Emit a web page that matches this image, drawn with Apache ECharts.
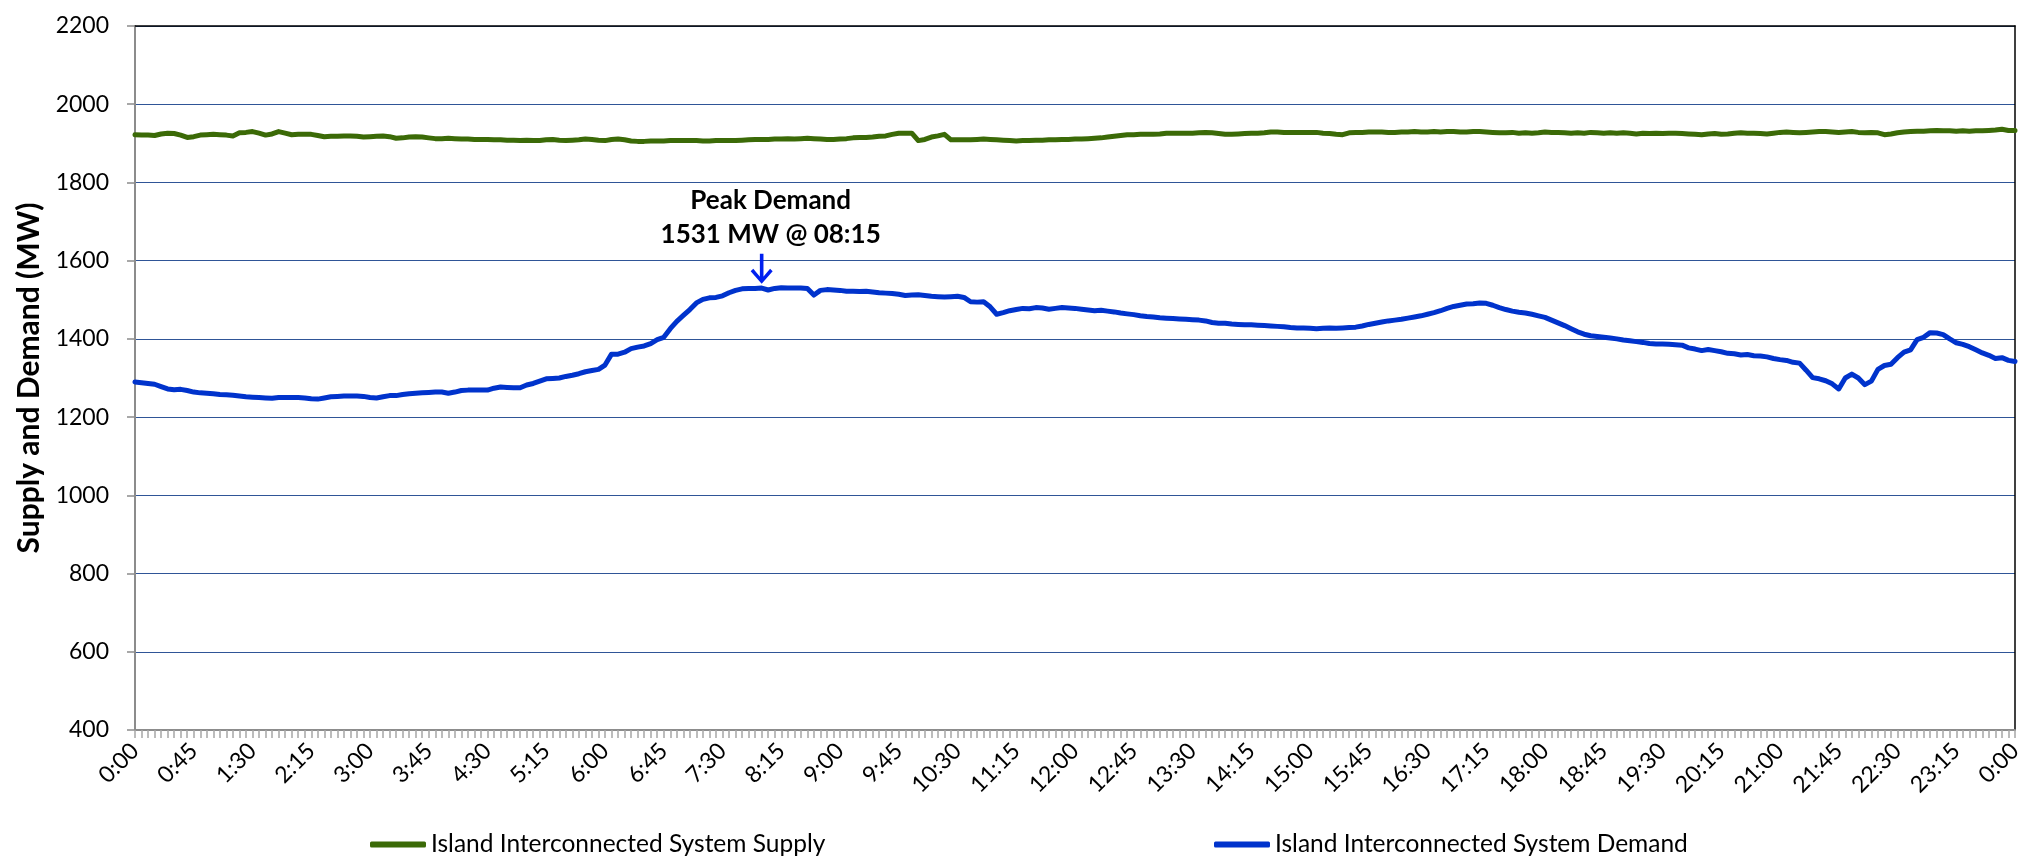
<!DOCTYPE html>
<html>
<head>
<meta charset="utf-8">
<script src="https://cdn.jsdelivr.net/npm/echarts@6/dist/echarts.min.js"></script>
<style>
html,body{margin:0;padding:0;background:#fff;}
#chart{width:2027px;height:857px;}
</style>
</head>
<body>
<div id="chart"></div>
<script>
// 5-minute intervals, 0:00 .. 0:00 (next day)
const times = [];
for (let i = 0; i <= 288; i++) {
  const m = (i * 5) % 1440;
  times.push(Math.floor(m / 60) + ':' + String(m % 60).padStart(2, '0'));
}

const supplyName = 'Island Interconnected System Supply';
const demandName = 'Island Interconnected System Demand';

// Island Interconnected System Supply (MW), one row per hour
const supply = [
  1922,1921,1921,1920,1924,1926,1925,1921,1915,1917,1921,1922,
  1923,1922,1921,1919,1927,1928,1930,1926,1921,1924,1930,1926,
  1922,1923,1923,1923,1920,1917,1918,1918,1919,1919,1918,1916,
  1917,1918,1919,1917,1913,1914,1916,1917,1916,1914,1912,1912,
  1913,1912,1911,1911,1910,1910,1910,1909,1909,1908,1908,1907,
  1908,1907,1907,1909,1910,1908,1907,1908,1909,1911,1910,1908,
  1907,1910,1911,1909,1906,1905,1905,1906,1906,1906,1907,1907,
  1907,1907,1907,1906,1906,1907,1907,1907,1907,1908,1909,1910,
  1910,1910,1911,1911,1912,1911,1912,1913,1912,1911,1910,1910,
  1911,1912,1914,1915,1915,1916,1918,1919,1923,1926,1926,1926,
  1907,1910,1916,1919,1923,1909,1909,1909,1909,1910,1911,1910,
  1909,1908,1907,1906,1907,1907,1908,1908,1909,1909,1910,1910,
  1911,1911,1912,1913,1914,1916,1918,1920,1922,1922,1923,1923,
  1923,1924,1926,1926,1926,1926,1926,1927,1928,1927,1925,1923,
  1923,1924,1925,1926,1926,1927,1929,1929,1928,1928,1928,1928,
  1928,1928,1926,1925,1923,1922,1927,1928,1928,1929,1929,1929,
  1928,1928,1929,1929,1930,1929,1929,1930,1929,1930,1930,1929,
  1929,1930,1930,1929,1928,1927,1927,1928,1926,1927,1926,1927,
  1929,1928,1928,1927,1926,1927,1926,1928,1927,1926,1927,1926,
  1927,1926,1924,1926,1925,1926,1925,1926,1926,1925,1924,1923,
  1922,1924,1925,1923,1924,1926,1927,1926,1926,1925,1924,1926,
  1928,1929,1928,1927,1928,1929,1930,1930,1929,1928,1929,1930,
  1928,1927,1928,1927,1922,1924,1927,1929,1930,1931,1931,1932,
  1933,1932,1932,1931,1932,1931,1932,1932,1933,1934,1936,1933,
  1933
];

// Island Interconnected System Demand (MW), one row per hour
const demand = [
  1290,1288,1286,1284,1278,1272,1270,1271,1268,1264,1262,1261,
  1260,1258,1257,1256,1254,1252,1251,1250,1249,1248,1250,1250,
  1250,1250,1249,1247,1246,1249,1252,1253,1254,1254,1254,1253,
  1250,1249,1252,1255,1255,1258,1260,1261,1262,1263,1264,1264,
  1261,1264,1268,1269,1269,1269,1269,1274,1277,1276,1275,1275,
  1282,1286,1292,1298,1299,1300,1304,1307,1311,1316,1319,1322,
  1333,1361,1361,1366,1375,1379,1382,1388,1398,1404,1426,1445,
  1460,1475,1492,1501,1505,1506,1510,1518,1524,1528,1529,1529,
  1530,1525,1529,1531,1530,1530,1530,1529,1512,1524,1526,1525,
  1524,1522,1522,1521,1522,1520,1518,1517,1516,1514,1511,1512,
  1513,1511,1509,1508,1507,1508,1509,1506,1495,1494,1495,1482,
  1463,1467,1472,1475,1478,1477,1480,1479,1476,1478,1480,1479,
  1478,1476,1474,1472,1473,1471,1469,1466,1464,1462,1459,1457,
  1456,1454,1453,1452,1451,1450,1449,1448,1446,1442,1440,1440,
  1438,1437,1436,1436,1435,1434,1433,1432,1431,1429,1428,1428,
  1427,1426,1427,1428,1427,1428,1429,1430,1433,1437,1440,1443,
  1446,1448,1450,1453,1456,1459,1463,1467,1472,1478,1483,1486,
  1489,1490,1492,1491,1486,1480,1475,1471,1468,1466,1463,1459,
  1455,1448,1441,1434,1426,1418,1412,1408,1406,1404,1402,1400,
  1397,1395,1393,1391,1388,1387,1387,1386,1385,1384,1377,1374,
  1370,1373,1370,1367,1363,1362,1359,1360,1357,1356,1354,1350,
  1347,1345,1340,1338,1320,1301,1298,1293,1285,1272,1300,1310,
  1300,1283,1292,1322,1332,1335,1352,1366,1372,1398,1404,1416,
  1415,1411,1400,1390,1386,1380,1372,1364,1358,1350,1352,1345,
  1342
];

const yMin = 400, yMax = 2200, yStep = 200;
const peakText = ['Peak Demand', '1531 MW @ 08:15'];
const peakIndex = 96, peakValue = 1531;

const FONT = 'Lato';
const chart = echarts.init(document.getElementById('chart'), null, {renderer: 'canvas'});

const arrowPath = 'path://M9.2,0 L12.8,0 L12.8,26 L9.2,26 Z M0,17.5 L2.6,15 L11,25 L19.4,15 L22,17.5 L11,30 Z';

chart.setOption({
  animation: false,
  backgroundColor: '#ffffff',
  textStyle: {fontFamily: FONT, color: '#000'},
  grid: {left: 135, right: 12, top: 26, bottom: 127, containLabel: false},
  legend: [
    {
      data: [supplyName], left: 365, top: 827,
      icon: 'roundRect', itemWidth: 56, itemHeight: 6,
      textStyle: {fontFamily: FONT, fontSize: 24.5, color: '#000'}
    },
    {
      data: [demandName], left: 1209, top: 827,
      icon: 'roundRect', itemWidth: 56, itemHeight: 6,
      textStyle: {fontFamily: FONT, fontSize: 24.5, color: '#000'}
    }
  ],
  xAxis: [
    {
      type: 'category', data: times, boundaryGap: false,
      axisLine: {lineStyle: {color: '#8c8c8c', width: 2}},
      axisTick: {show: true, interval: 0, length: 8, lineStyle: {color: '#a6a6a6', width: 1.5}},
      axisLabel: {interval: 8, rotate: 45, margin: 17, fontSize: 23, color: '#000', fontFamily: FONT},
      splitLine: {show: false}
    },
    {
      type: 'category', data: times, boundaryGap: false, position: 'top',
      axisLine: {lineStyle: {color: '#000', width: 1.5}},
      axisTick: {show: false}, axisLabel: {show: false}, splitLine: {show: false}
    }
  ],
  yAxis: [
    {
      type: 'value', min: yMin, max: yMax, interval: yStep,
      name: 'Supply and Demand (MW)', nameLocation: 'middle', nameGap: 88,
      nameTextStyle: {fontFamily: FONT, fontSize: 30, fontWeight: 'bold', color: '#000'},
      axisLine: {show: true, lineStyle: {color: '#8c8c8c', width: 2}},
      axisTick: {show: true, length: 8, lineStyle: {color: '#8c8c8c', width: 1.5}},
      axisLabel: {fontSize: 23, color: '#000', margin: 26, fontFamily: FONT, formatter: v => String(v)},
      splitLine: {show: true, lineStyle: {color: '#2F5597', width: 1.2}}
    },
    {
      type: 'value', min: yMin, max: yMax, interval: yStep, position: 'right',
      axisLine: {show: true, lineStyle: {color: '#000', width: 1.5}},
      axisTick: {show: false}, axisLabel: {show: false}, splitLine: {show: false}
    }
  ],
  series: [
    {
      name: supplyName, type: 'line', data: supply, xAxisIndex: 0, yAxisIndex: 0,
      symbol: 'none', smooth: false, color: '#3B6A07',
      lineStyle: {color: '#3B6A07', width: 5, cap: 'round', join: 'round'}
    },
    {
      name: demandName, type: 'line', data: demand, xAxisIndex: 0, yAxisIndex: 0,
      symbol: 'none', smooth: false, color: '#0033CC',
      lineStyle: {color: '#0033CC', width: 5, cap: 'round', join: 'round'},
      markPoint: {
        silent: true,
        symbol: arrowPath, symbolSize: [22, 30], symbolOffset: [0, -19],
        itemStyle: {color: '#0020F0'},
        label: {
          show: true, position: 'top', distance: 2, offset: [9, 0],
          formatter: peakText.join('\n'),
          fontFamily: FONT, fontSize: 26, fontWeight: 'bold', color: '#000', lineHeight: 34, align: 'center'
        },
        data: [{coord: [peakIndex, peakValue]}]
      }
    }
  ]
});
</script>
</body>
</html>
